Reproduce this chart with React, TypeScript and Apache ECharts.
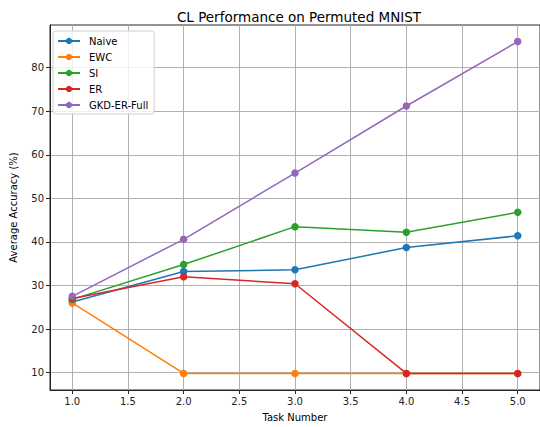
import React, { useEffect, useRef } from "react";
import * as echarts from "echarts";

const tasks = [1, 2, 3, 4, 5];
const naive = [26.2, 33.2, 33.6, 38.7, 41.4];
const ewc = [26.0, 9.8, 9.8, 9.8, 9.8];
const si = [26.8, 34.8, 43.5, 42.2, 46.8];
const er = [27.0, 32.0, 30.4, 9.8, 9.8];
const gkd = [27.5, 40.6, 55.8, 71.2, 86.0];
const xRange = [0.8, 5.2];
const yRange = [6, 89.8];
const xTicks = [1.0, 1.5, 2.0, 2.5, 3.0, 3.5, 4.0, 4.5, 5.0];
const yTicks = [10, 20, 30, 40, 50, 60, 70, 80];

const seriesDefs = [
  { name: "Naive", data: naive, color: "#1f77b4" },
  { name: "EWC", data: ewc, color: "#ff7f0e" },
  { name: "SI", data: si, color: "#2ca02c" },
  { name: "ER", data: er, color: "#d62728" },
  { name: "GKD-ER-Full", data: gkd, color: "#9467bd" },
];

const FONT = "DejaVu Sans";
const GRID_COLOR = "#b0b0b0";
const SPINE = "#262626";

export default function App() {
  const ref = useRef<HTMLDivElement>(null);
  useEffect(() => {
    if (!ref.current) return;
    const chart = echarts.init(ref.current, null, { renderer: "svg" });
    chart.setOption({
      animation: false,
      backgroundColor: "#ffffff",
      textStyle: { fontFamily: FONT },
      title: {
        text: "CL Performance on Permuted MNIST",
        left: 294,
        textAlign: "center",
        top: 5,
        textStyle: { fontFamily: FONT, fontSize: 13.5, fontWeight: "normal", color: "#000" },
      },
      grid: { left: 48.5, top: 25, width: 494, height: 368, containLabel: false, show: true, borderColor: SPINE, borderWidth: 1, backgroundColor: "transparent" },
      legend: {
        orient: "vertical",
        left: 53,
        top: 31,
        padding: [5, 6, 4, 4],
        itemGap: 6,
        itemWidth: 22,
        itemHeight: 8,
        backgroundColor: "rgba(255,255,255,0.8)",
        borderColor: "#d0d0d0",
        borderWidth: 1,
        borderRadius: 3,
        textStyle: { fontFamily: FONT, fontSize: 10, color: "#000", padding: [0, 0, 0, 4] },
        data: seriesDefs.map((s) => s.name),
      },
      xAxis: {
        type: "value",
        min: xRange[0],
        max: xRange[1],
        splitNumber: 9,
        name: "Task Number",
        nameLocation: "middle",
        nameGap: 22,
        nameTextStyle: { fontFamily: FONT, fontSize: 10, color: "#000" },
        axisLine: { show: true, lineStyle: { color: SPINE, width: 1 } },
        axisTick: { show: true, length: 4, customValues: xTicks, lineStyle: { color: SPINE } },
        axisLabel: {
          customValues: xTicks,
          formatter: (v: number) => v.toFixed(1),
          fontFamily: FONT,
          fontSize: 10,
          color: "#222",
          margin: 6,
        },
        splitLine: { show: true, lineStyle: { color: GRID_COLOR, width: 1, type: "solid" } },
      },
      yAxis: {
        type: "value",
        min: yRange[0],
        max: yRange[1],
        splitNumber: 8,
        name: "Average Accuracy (%)",
        nameLocation: "middle",
        nameGap: 32,
        nameTextStyle: { fontFamily: FONT, fontSize: 10, color: "#000" },
        axisLine: { show: true, lineStyle: { color: SPINE, width: 1 } },
        axisTick: { show: true, length: 4, customValues: yTicks, lineStyle: { color: SPINE } },
        axisLabel: {
          customValues: yTicks,
          fontFamily: FONT,
          fontSize: 10,
          color: "#222",
          margin: 6,
        },
        splitLine: { show: true, lineStyle: { color: GRID_COLOR, width: 1, type: "solid" } },
      },
      series: seriesDefs.map((s) => ({
        name: s.name,
        type: "line",
        data: tasks.map((t, i) => [t, s.data[i]]),
        symbol: "circle",
        symbolSize: 7.5,
        showSymbol: true,
        color: s.color,
        lineStyle: { color: s.color, width: 1.5 },
        itemStyle: { color: s.color },
      })),
    });
    return () => chart.dispose();
  }, []);
  return (
    <div
      ref={ref}
      style={{ position: "fixed", left: 0, top: 0, width: 540, height: 427 }}
    />
  );
}
